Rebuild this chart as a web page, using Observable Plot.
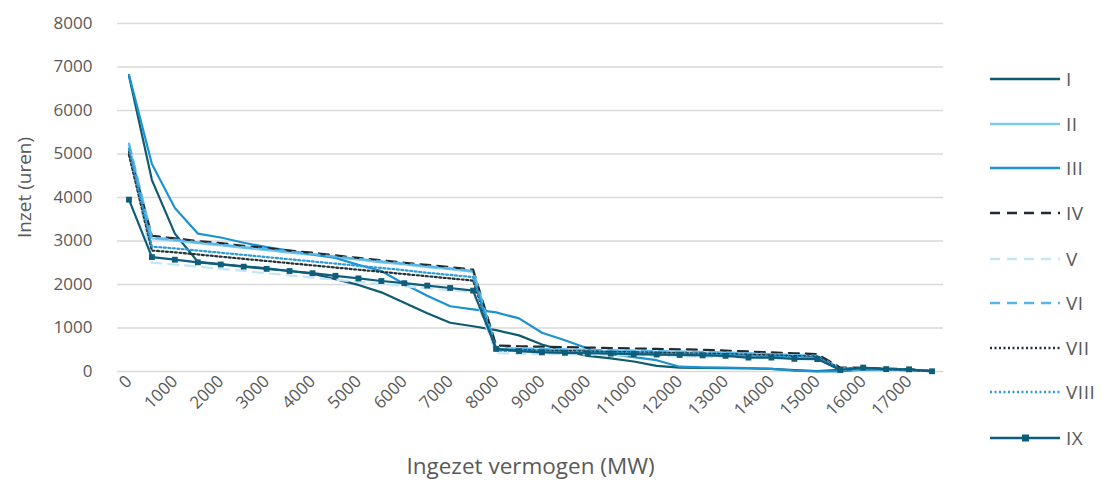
<!DOCTYPE html>
<html><head><meta charset="utf-8">
<script src="https://cdn.jsdelivr.net/npm/d3@7"></script>
<script src="https://cdn.jsdelivr.net/npm/@observablehq/plot@0.6"></script>
<style>
body{margin:0;background:#fff;font-family:"Open Sans",sans-serif;}
#wrap{position:relative;width:1103px;height:487px;overflow:hidden;}
#chart{position:absolute;left:0;top:0;}
.lg{position:absolute;left:990px;height:22px;display:flex;align-items:center;}
.lg span{font-family:"Open Sans",sans-serif;font-size:19px;color:#595959;margin-left:5px;letter-spacing:0.5px;}
</style></head><body>
<div id="wrap"><div id="chart"></div><div id="legend"></div></div>
<script>
// categories (MW)
const mw = [0,500,1000,1500,2000,2500,3000,3500,4000,4500,5000,5500,6000,6500,7000,7500,8000,8500,9000,9500,10000,10500,11000,11500,12000,12500,13000,13500,14000,14500,15000,15500,16000,16500,17000,17500];
const seriesNames = ["I","II","III","IV","V","VI","VII","VIII","IX"];
const sI    = [6800,4400,3170,2520,2470,2420,2370,2310,2250,2120,1990,1820,1580,1340,1120,1040,950,830,620,470,360,300,230,130,90,80,75,70,60,30,10,40,60,40,30,10];
const sII   = [5220,3060,3010,2950,2900,2840,2790,2730,2680,2620,2570,2510,2460,2400,2350,2290,525,515,505,495,485,475,465,455,445,435,425,405,385,365,345,65,75,55,40,10];
const sIII  = [6820,4770,3760,3170,3080,2960,2860,2780,2690,2610,2450,2310,2010,1740,1500,1430,1360,1220,890,720,530,400,330,260,110,95,90,80,60,20,5,5,40,40,30,10];
const sIV   = [5050,3120,3060,3000,2950,2890,2840,2780,2730,2670,2610,2560,2500,2450,2400,2340,600,580,570,560,550,540,530,520,510,500,480,460,440,420,400,90,85,70,50,10];
const sV    = [5200,2500,2460,2410,2360,2310,2260,2210,2160,2110,2060,2010,1960,1910,1870,1830,420,410,400,395,390,380,370,360,350,340,330,320,310,300,290,40,60,50,40,10];
const sVI   = [5240,3080,3030,2970,2920,2860,2810,2750,2700,2640,2590,2530,2480,2420,2370,2310,540,530,520,510,500,490,480,470,460,450,440,420,400,380,360,70,80,60,45,10];
const sVII  = [4980,2780,2740,2690,2640,2590,2540,2490,2440,2390,2340,2290,2240,2190,2140,2090,500,490,480,470,460,450,440,430,420,410,400,385,370,355,340,60,70,55,40,10];
const sVIII = [5120,2870,2830,2780,2730,2680,2630,2580,2530,2480,2430,2380,2330,2270,2220,2170,480,470,460,450,440,430,420,410,400,390,380,365,350,335,320,55,65,50,40,10];
const sIX   = [3950,2630,2570,2510,2460,2410,2360,2310,2260,2200,2140,2080,2030,1975,1920,1860,520,470,440,430,420,410,400,390,380,370,360,320,320,290,285,35,90,55,50,5];
const xTicks = [0,1000,2000,3000,4000,5000,6000,7000,8000,9000,10000,11000,12000,13000,14000,15000,16000,17000];
const yTicks = [0,1000,2000,3000,4000,5000,6000,7000,8000];
const xLabel = "Ingezet vermogen (MW)";
const yLabel = "Inzet (uren)";

const values = [sI,sII,sIII,sIV,sV,sVI,sVII,sVIII,sIX];
const colors = ["#0f5b6f","#7ccaf0","#1c93d1","#1e2b31","#c3e5f7","#55b6e7","#22343b","#2c9bd8","#0e5d7a"];
const dashes = [null,null,null,"10,7","10,7","10,7","2,2.5","2,2.5",null];

const marks = [
  Plot.gridY(yTicks, {stroke:"#d9d9d9", strokeOpacity:1, strokeWidth:1.4}),
  Plot.axisY(yTicks, {tickSize:0, tickPadding:25, fontSize:17, fill:"#595959", label:null, fontFamily:"Open Sans", tickFormat:d => String(d)}),
  Plot.axisX(xTicks, {tickSize:0, tickPadding:7, tickRotate:-45, fontSize:17, fill:"#595959", label:null, fontFamily:"Open Sans", tickFormat:d => String(d)})
];
seriesNames.forEach((name, k) => {
  const data = mw.map((x, i) => ({x, y: values[k][i], s: name}));
  marks.push(Plot.line(data, {x:"x", y:"y", stroke:colors[k], strokeWidth:2.2, strokeDasharray:dashes[k] ?? undefined, strokeLinejoin:"round"}));
  if (name === "IX") marks.push(Plot.dot(data, {x:"x", y:"y", symbol:"square", r:3.3, fill:colors[k], stroke:"none"}));
});
marks.push(Plot.text([xLabel], {frameAnchor:"bottom", dy:102, fontSize:22.5, fill:"#595959", fontFamily:"Open Sans"}));
marks.push(Plot.text([yLabel], {frameAnchor:"left", dx:-93, dy:-10, rotate:-90, textAnchor:"middle", fontSize:19, fill:"#595959", fontFamily:"Open Sans"}));

const chart = Plot.plot({
  width:960, height:487,
  marginLeft:117, marginRight:17, marginTop:23, marginBottom:116,
  style:{background:"#fff", fontFamily:"Open Sans"},
  x:{type:"linear", domain:[-250,17750]},
  y:{domain:[0,8000]},
  marks
});
document.getElementById("chart").appendChild(chart);

const legendY = [79,124,168,213,259,303,348,392,438];
const lg = document.getElementById("legend");
seriesNames.forEach((name, k) => {
  const d = document.createElement("div");
  d.className = "lg";
  d.style.top = (legendY[k] - 11) + "px";
  const sw = `<svg width="71" height="22"><line x1="0" x2="70" y1="11" y2="11" stroke="${colors[k]}" stroke-width="2.4" ${dashes[k] ? `stroke-dasharray="${dashes[k]}"` : ""}/>${name==="IX" ? `<rect x="32" y="7.5" width="7" height="7" fill="${colors[k]}"/>` : ""}</svg>`;
  d.innerHTML = sw + `<span>${name}</span>`;
  lg.appendChild(d);
});
</script>
</body></html>
